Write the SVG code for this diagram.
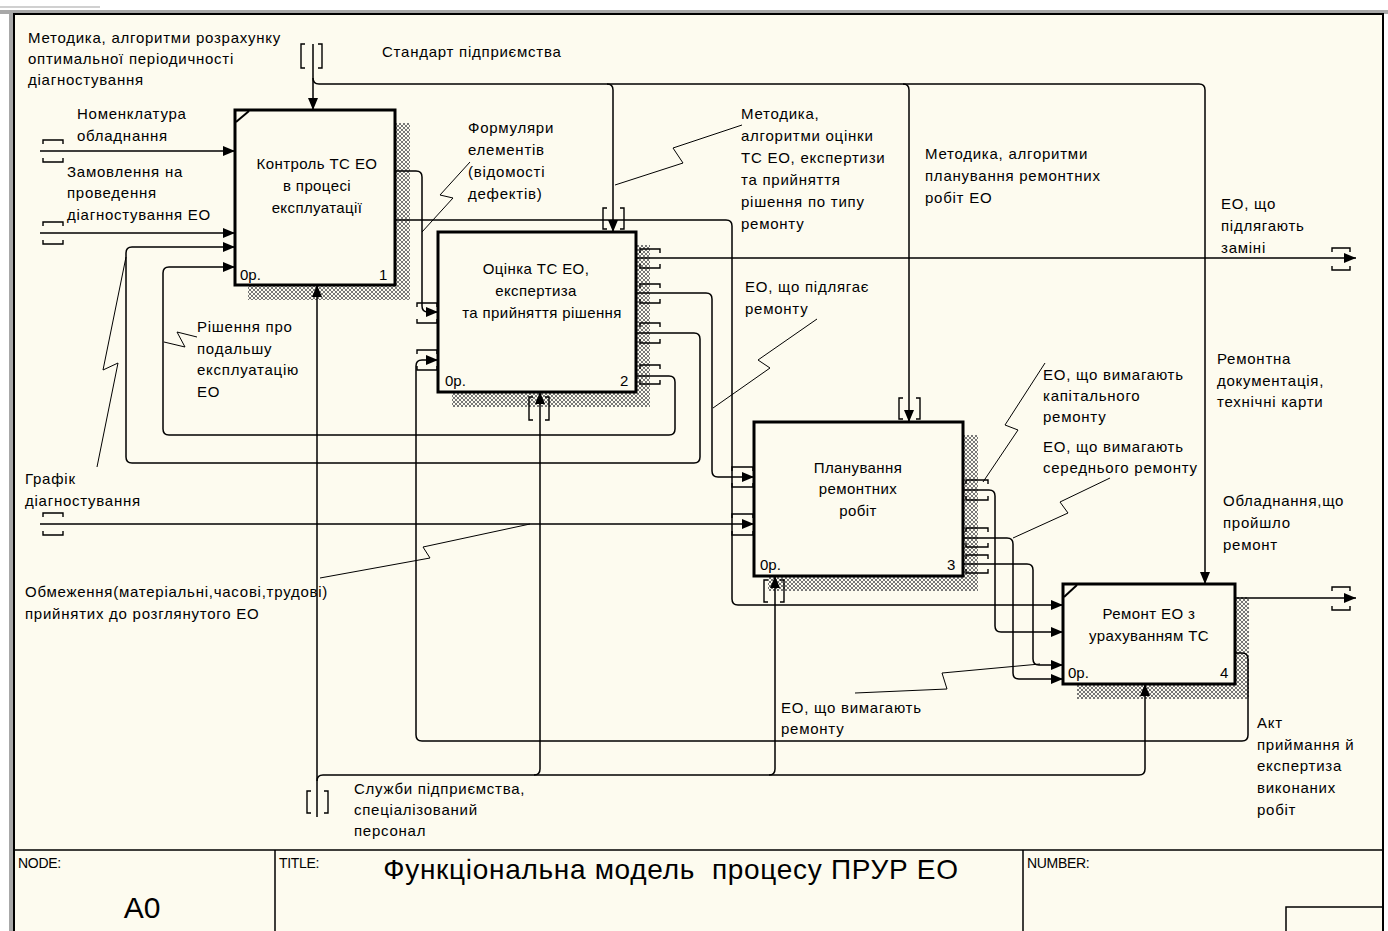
<svg xmlns="http://www.w3.org/2000/svg" width="1388" height="931" viewBox="0 0 1388 931">
<style>
.bg{fill:#FDFBEF}
.box{fill:#FDFBEF;stroke:#000;stroke-width:3}
.ln{fill:none;stroke:#000;stroke-width:1.5}
.ld{fill:none;stroke:#000;stroke-width:1}
.br{fill:none;stroke:#000;stroke-width:1.4}
.sh{fill:url(#hatch)}
.t{font-family:"Liberation Sans",Arial,sans-serif;font-size:15px;fill:#000;letter-spacing:0.75px}
.bt{font-family:"Liberation Sans",Arial,sans-serif;font-size:15px;fill:#000;text-anchor:middle;letter-spacing:0.4px}
.sm{font-family:"Liberation Sans",Arial,sans-serif;font-size:15px;fill:#000}
.hd{font-family:"Liberation Sans",Arial,sans-serif;font-size:14px;fill:#000;letter-spacing:-0.3px}
</style>
<defs>
<pattern id="hatch" width="4" height="4" patternUnits="userSpaceOnUse">
<rect width="4" height="4" fill="#FDFBEF"/>
<rect x="0" y="0" width="1" height="1" fill="#777"/><rect x="1" y="1" width="1" height="1" fill="#777"/>
<rect x="2" y="2" width="1" height="1" fill="#777"/><rect x="3" y="3" width="1" height="1" fill="#777"/>
<rect x="3" y="0" width="1" height="1" fill="#777"/><rect x="2" y="1" width="1" height="1" fill="#777"/>
<rect x="1" y="2" width="1" height="1" fill="#777"/><rect x="0" y="3" width="1" height="1" fill="#777"/>
</pattern>
<marker id="ah" markerWidth="12" markerHeight="10" refX="12" refY="5" orient="auto" markerUnits="userSpaceOnUse">
<path d="M0,0 L12,5 L0,10 Z" fill="#000"/>
</marker>
</defs>

<g id="frame">
<rect x="0" y="0" width="1388" height="931" fill="#FFFFFF"/>
<rect x="0" y="6" width="100" height="2" fill="#D0D0D0"/>
<rect x="0" y="10" width="1388" height="4" fill="#A8A8A8"/>
<rect x="9" y="10" width="5" height="921" fill="#A8A8A8"/>
<rect class="bg" x="14" y="14" width="1369" height="930" stroke="#000" stroke-width="2"/>
<path d="M14,850 H1383 M275,850 V931 M1023,850 V931" stroke="#000" stroke-width="1.5" fill="none"/>
<rect x="1286" y="907" width="97" height="30" fill="none" stroke="#000" stroke-width="1.5"/>
<text class="hd" x="18" y="868">NODE:</text>
<text class="hd" x="279" y="868">TITLE:</text>
<text class="hd" x="1027" y="868">NUMBER:</text>
<text x="142" y="918" font-family="Liberation Sans, Arial, sans-serif" font-size="30" text-anchor="middle">A0</text>
<text x="671" y="879" font-family="Liberation Sans, Arial, sans-serif" font-size="28" letter-spacing="0.7" text-anchor="middle" xml:space="preserve" style="white-space:pre">Функціональна модель  процесу ПРУР ЕО</text>
</g>

<g id="shadows">
<path class="sh" d="M395,123 H410 V300 H248 V285 H395 Z"/>
<path class="sh" d="M636,245 H650 V407 H452 V392 H636 Z"/>
<path class="sh" d="M963,435 H978 V591 H768 V576 H963 Z"/>
<path class="sh" d="M1235,597 H1249 V699 H1077 V684 H1235 Z"/>
</g>

<g id="node1">
<rect class="box" x="235" y="110" width="160" height="175"/>
<path d="M236,122 L249,111" stroke="#000" stroke-width="2"/>
<text class="bt" x="317" y="169">Контроль ТС ЕО</text>
<text class="bt" x="317" y="191">в процесі</text>
<text class="bt" x="317" y="213">експлуатації</text>
<text class="sm" x="240" y="280">0р.</text>
<text class="sm" x="379" y="280">1</text>
</g>

<g id="node2">
<rect class="box" x="438" y="232" width="198" height="160"/>
<text class="bt" x="536" y="274">Оцінка ТС ЕО,</text>
<text class="bt" x="536" y="296">експертиза</text>
<text class="bt" x="542" y="318">та прийняття рішення</text>
<text class="sm" x="445" y="386">0р.</text>
<text class="sm" x="620" y="386">2</text>
</g>

<g id="node3">
<rect class="box" x="754" y="422" width="209" height="154"/>
<text class="bt" x="858" y="473">Планування</text>
<text class="bt" x="858" y="494">ремонтних</text>
<text class="bt" x="858" y="516">робіт</text>
<text class="sm" x="760" y="570">0р.</text>
<text class="sm" x="947" y="570">3</text>
</g>

<g id="node4">
<rect class="box" x="1063" y="584" width="172" height="100"/>
<path d="M1064,597 L1077,585" stroke="#000" stroke-width="2"/>
<text class="bt" x="1149" y="619">Ремонт ЕО з</text>
<text class="bt" x="1149" y="641">урахуванням ТС</text>
<text class="sm" x="1068" y="678">0р.</text>
<text class="sm" x="1220" y="678">4</text>
</g>

<g id="connectors">
<path class="ln" marker-end="url(#ah)" d="M313,44 V110"/>
<path class="ln" marker-end="url(#ah)" d="M313,78 Q313,84 319,84 H1199 Q1205,84 1205,90 V584"/>
<path class="ln" marker-end="url(#ah)" d="M607,84 Q613,84 613,90 V232"/>
<path class="ln" marker-end="url(#ah)" d="M903,84 Q909,84 909,90 V422"/>
<path class="ln" marker-end="url(#ah)" d="M40,151 H235"/>
<path class="ln" marker-end="url(#ah)" d="M40,233 H235"/>
<path class="ln" marker-end="url(#ah)" d="M636,333 H694 Q700,333 700,339 V457 Q700,463 694,463 H132 Q126,463 126,457 V253 Q126,247 132,247 H235"/>
<path class="ln" marker-end="url(#ah)" d="M636,376 H669 Q675,376 675,382 V429 Q675,435 669,435 H169 Q163,435 163,429 V273 Q163,267 169,267 H235"/>
<path class="ln" marker-end="url(#ah)" d="M395,171 H416 Q422,171 422,177 V306 Q422,312 428,312 H438"/>
<path class="ln" marker-end="url(#ah)" d="M395,220 H726 Q732,220 732,226 V599 Q732,605 738,605 H1063"/>
<path class="ln" marker-end="url(#ah)" d="M636,258 H1356"/>
<path class="ln" marker-end="url(#ah)" d="M636,293 H706 Q712,293 712,299 V471 Q712,477 718,477 H754"/>
<path class="ln" marker-end="url(#ah)" d="M40,524 H754"/>
<path class="ln" marker-end="url(#ah)" d="M963,490 H989 Q995,490 995,496 V626 Q995,632 1001,632 H1063"/>
<path class="ln" marker-end="url(#ah)" d="M963,538 H1007 Q1013,538 1013,544 V673 Q1013,679 1019,679 H1063"/>
<path class="ln" marker-end="url(#ah)" d="M963,564 H1027 Q1033,564 1033,570 V659 Q1033,665 1039,665 H1063"/>
<path class="ln" marker-end="url(#ah)" d="M1235,598 H1356"/>
<path class="ln" marker-end="url(#ah)" d="M1235,653 H1242 Q1248,653 1248,659 V735 Q1248,741 1242,741 H422 Q416,741 416,735 V366 Q416,360 422,360 H438"/>
<path class="ln" marker-end="url(#ah)" d="M317,817 V285"/>
<path class="ln" marker-end="url(#ah)" d="M317,781 Q317,775 323,775 H1139 Q1145,775 1145,769 V684"/>
<path class="ln" marker-end="url(#ah)" d="M534,775 Q540,775 540,769 V392"/>
<path class="ln" marker-end="url(#ah)" d="M769,775 Q775,775 775,769 V576"/>

<path class="br" d="M43,144 V140 H63 V144 M43,158 V162 H63 V158"/>
<path class="br" d="M43,226 V222 H63 V226 M43,240 V244 H63 V240"/>
<path class="br" d="M43,517 V513 H63 V517 M43,531 V535 H63 V531"/>
<path class="br" d="M1332,252 V248 H1350 V252 M1332,266 V270 H1350 V266"/>
<path class="br" d="M1332,591 V587 H1350 V591 M1332,606 V610 H1350 V606"/>
<path class="br" d="M417,307 V303 H437 V307 M417,319 V323 H437 V319"/>
<path class="br" d="M417,354 V350 H437 V354 M417,366 V370 H437 V366"/>
<path class="br" d="M732,471 V467 H753 V471 M732,483 V487 H753 V483"/>
<path class="br" d="M732,518 V514 H753 V518 M732,531 V535 H753 V531"/>
<path class="br" d="M640,253 V249 H660 V253 M640,264 V268 H660 V264"/>
<path class="br" d="M640,288 V284 H660 V288 M640,299 V303 H660 V299"/>
<path class="br" d="M640,327 V323 H660 V327 M640,339 V343 H660 V339"/>
<path class="br" d="M640,369 V365 H660 V369 M640,380 V384 H660 V380"/>
<path class="br" d="M966,484 V480 H988 V484 M966,496 V500 H988 V496"/>
<path class="br" d="M966,532 V528 H988 V532 M966,543 V547 H988 V543"/>
<path class="br" d="M966,559 V555 H988 V559 M966,569 V573 H988 V569"/>
<path class="br" d="M305,44 H301 V68 H305 M318,44 H322 V68 H318"/>
<path class="br" d="M311,791 H307 V813 H311 M324,791 H328 V813 H324"/>
<path class="br" d="M607,208 H603 V229 H607 M620,208 H624 V229 H620"/>
<path class="br" d="M903,398 H899 V419 H903 M916,398 H920 V419 H916"/>
<path class="br" d="M533,397 H529 V420 H533 M545,397 H549 V420 H545"/>
<path class="br" d="M768,580 H764 V602 H768 M780,580 H784 V602 H780"/>

<path class="ld" d="M742,125 L673,148 L683,163 L615,185"/>
<path class="ld" d="M470,162 L440,195 L453,198 L422,232"/>
<path class="ld" d="M817,319 L758,360 L770,368 L713,408"/>
<path class="ld" d="M197,337 L177,332 L185,347 L164,342"/>
<path class="ld" d="M97,467 L118,363 L103,370 L126,257"/>
<path class="ld" d="M1045,363 L1005,425 L1018,430 L983,482"/>
<path class="ld" d="M1110,478 L1060,502 L1068,513 L1013,538"/>
<path class="ld" d="M320,578 L430,558 L423,547 L530,524"/>
<path class="ld" d="M855,693 L947,689 L942,673 L1040,664"/>
</g>

<g id="labels">
<text class="t" x="28" y="43">Методика, алгоритми розрахунку</text>
<text class="t" x="28" y="64">оптимальної періодичності</text>
<text class="t" x="28" y="85">діагностування</text>
<text class="t" x="382" y="57">Стандарт підприємства</text>
<text class="t" x="77" y="119">Номенклатура</text>
<text class="t" x="77" y="141">обладнання</text>
<text class="t" x="67" y="177">Замовлення на</text>
<text class="t" x="67" y="198">проведення</text>
<text class="t" x="67" y="220">діагностування ЕО</text>
<text class="t" x="468" y="133">Формуляри</text>
<text class="t" x="468" y="155">елементів</text>
<text class="t" x="468" y="177">(відомості</text>
<text class="t" x="468" y="199">дефектів)</text>
<text class="t" x="741" y="119">Методика,</text>
<text class="t" x="741" y="141">алгоритми оцінки</text>
<text class="t" x="741" y="163">ТС ЕО, експертизи</text>
<text class="t" x="741" y="185">та прийняття</text>
<text class="t" x="741" y="207">рішення по типу</text>
<text class="t" x="741" y="229">ремонту</text>
<text class="t" x="925" y="159">Методика, алгоритми</text>
<text class="t" x="925" y="181">планування ремонтних</text>
<text class="t" x="925" y="203">робіт ЕО</text>
<text class="t" x="1221" y="209">ЕО, що</text>
<text class="t" x="1221" y="231">підлягають</text>
<text class="t" x="1221" y="253">заміні</text>
<text class="t" x="745" y="292">ЕО, що підлягає</text>
<text class="t" x="745" y="314">ремонту</text>
<text class="t" x="197" y="332">Рішення про</text>
<text class="t" x="197" y="354">подальшу</text>
<text class="t" x="197" y="375">експлуатацію</text>
<text class="t" x="197" y="397">ЕО</text>
<text class="t" x="1217" y="364">Ремонтна</text>
<text class="t" x="1217" y="386">документація,</text>
<text class="t" x="1217" y="407">технічні карти</text>
<text class="t" x="1043" y="380">ЕО, що вимагають</text>
<text class="t" x="1043" y="401">капітального</text>
<text class="t" x="1043" y="422">ремонту</text>
<text class="t" x="1043" y="452">ЕО, що вимагають</text>
<text class="t" x="1043" y="473">середнього ремонту</text>
<text class="t" x="25" y="484">Графік</text>
<text class="t" x="25" y="506">діагностування</text>
<text class="t" x="1223" y="506">Обладнання,що</text>
<text class="t" x="1223" y="528">пройшло</text>
<text class="t" x="1223" y="550">ремонт</text>
<text class="t" x="25" y="597">Обмеження(матеріальні,часові,трудові)</text>
<text class="t" x="25" y="619">прийнятих до розглянутого ЕО</text>
<text class="t" x="781" y="713">ЕО, що вимагають</text>
<text class="t" x="781" y="734">ремонту</text>
<text class="t" x="354" y="794">Служби підприємства,</text>
<text class="t" x="354" y="815">спеціалізований</text>
<text class="t" x="354" y="836">персонал</text>
<text class="t" x="1257" y="728">Акт</text>
<text class="t" x="1257" y="750">приймання й</text>
<text class="t" x="1257" y="771">експертиза</text>
<text class="t" x="1257" y="793">виконаних</text>
<text class="t" x="1257" y="815">робіт</text>
</g>
</svg>
